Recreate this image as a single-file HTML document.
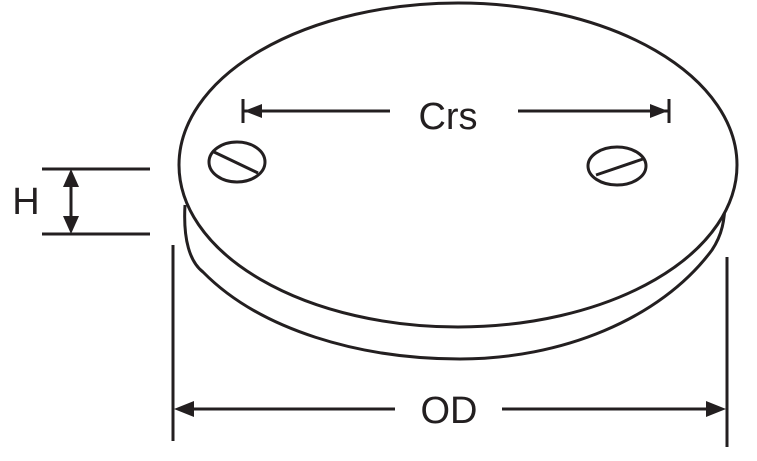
<!DOCTYPE html>
<html><head><style>html,body{margin:0;padding:0;background:#fff}svg{display:block}</style></head>
<body>
<svg width="757" height="461" viewBox="0 0 757 461" xmlns="http://www.w3.org/2000/svg">
<g fill="none" stroke="#231f20" stroke-width="3">
<path d="M185,205 C183,240 190,262 203,272 C260,330 360,359 460,359 C560,359 660,320 712,250 C722,235 725,220 725,200"/>
<ellipse cx="458" cy="165" rx="279" ry="162" fill="#fff"/>
<ellipse cx="237" cy="162" rx="28" ry="20"/>
<line x1="214" y1="152" x2="258" y2="173"/>
<ellipse cx="617" cy="166" rx="29" ry="19"/>
<line x1="596" y1="175" x2="643" y2="159"/>
<line x1="244" y1="111" x2="390" y2="111"/>
<line x1="518" y1="111" x2="668" y2="111"/>
<line x1="243" y1="99" x2="243" y2="123"/>
<line x1="669" y1="99" x2="669" y2="123"/>
<line x1="42" y1="169" x2="150" y2="169"/>
<line x1="42" y1="234" x2="150" y2="234"/>
<line x1="71" y1="180" x2="71" y2="222"/>
<line x1="173" y1="245" x2="173" y2="441"/>
<line x1="727" y1="257" x2="727" y2="447"/>
<line x1="180" y1="409" x2="395" y2="409"/>
<line x1="502" y1="409" x2="720" y2="409"/>
</g>
<g fill="#231f20">
<polygon points="244,111 262,104 262,118"/>
<polygon points="668,111 650,104 650,118"/>
<polygon points="71,169 63,187 79,187"/>
<polygon points="71,234 63,216 79,216"/>
<polygon points="174,409 194,401 194,417"/>
<polygon points="726,409 706,401 706,417"/>
</g>
<g font-family="Liberation Sans, sans-serif" fill="#231f20" font-size="38" text-anchor="middle">
<text x="448" y="129">Crs</text>
<text x="26" y="214">H</text>
<text x="449" y="423">OD</text>
</g>
</svg>
</body></html>
